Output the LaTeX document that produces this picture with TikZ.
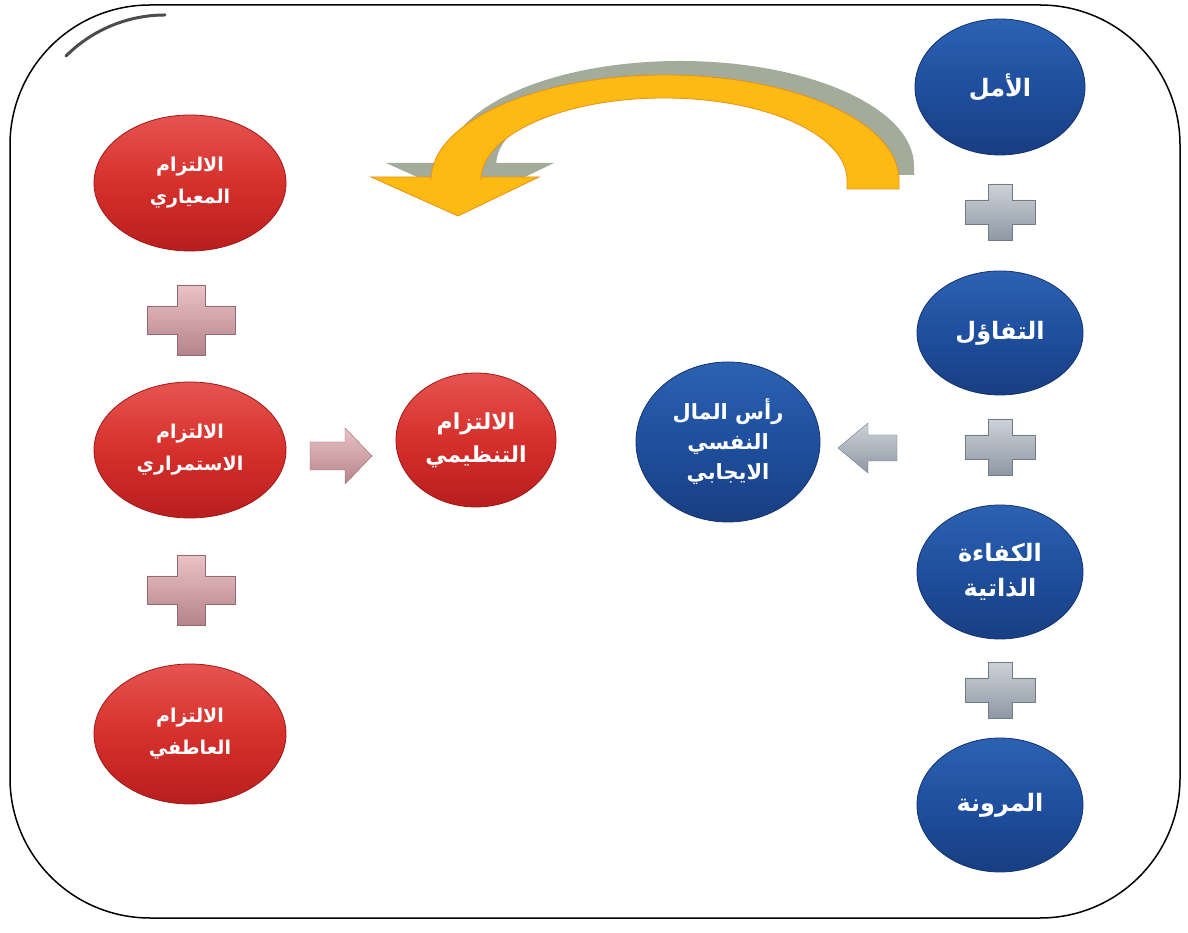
\documentclass[tikz,border=0pt]{standalone}
\usepackage{fontspec}
\newfontfamily\arabicfont[Script=Arabic]{DejaVu Sans}
\TeXXeTstate=1
\usetikzlibrary{shapes.geometric}
\definecolor{redT}{HTML}{E65450}
\definecolor{redM}{HTML}{D6302C}
\definecolor{redB}{HTML}{B81E1E}
\definecolor{redE}{HTML}{A01818}
\definecolor{blueT}{HTML}{2C62B2}
\definecolor{blueM}{HTML}{1F4F9E}
\definecolor{blueB}{HTML}{183E82}
\definecolor{blueE}{HTML}{14336E}
\definecolor{pinkT}{HTML}{EBC2C6}
\definecolor{pinkB}{HTML}{B4848A}
\definecolor{greyT}{HTML}{CDD2D8}
\definecolor{greyB}{HTML}{8E98A4}
\definecolor{arrowY}{HTML}{FDBA12}
\definecolor{arrowO}{HTML}{E8901A}
\definecolor{arrowS}{HTML}{A3AB9B}
\newcommand{\crossshape}[6]{%
  \begin{scope}[shift={(#1,#2)}]
    \path[#6] (-#3,-#5) -- (-#5,-#5) -- (-#5,-#4) -- (#5,-#4) -- (#5,-#5) -- (#3,-#5)
      -- (#3,#5) -- (#5,#5) -- (#5,#4) -- (-#5,#4) -- (-#5,#5) -- (-#3,#5) -- cycle;
  \end{scope}}
\newcommand{\ar}[1]{\beginR #1\endR}
\begin{document}
\begin{tikzpicture}[x=1pt,y=1pt,
  ballbase/.style={ellipse, inner sep=0pt, text=white, align=center, line width=0.8pt},
  redball/.style={ballbase, draw=redE, top color=redT, bottom color=redB, middle color=redM,
    minimum width=192pt, minimum height=136pt, font=\arabicfont\bfseries\fontsize{19}{32}\selectfont},
  blueball/.style={ballbase, draw=blueE, top color=blueT, bottom color=blueB, middle color=blueM,
    minimum width=166pt, minimum height=134pt, font=\arabicfont\bfseries\fontsize{24}{35}\selectfont},
  redcross/.style={top color=pinkT, bottom color=pinkB, draw=pinkB!80!black, line width=0.4pt},
  bluecross/.style={top color=greyT, bottom color=greyB, draw=greyB!80!black, line width=0.4pt}
]
\useasboundingbox (0,0) rectangle (1188,932);

% frame
\draw[line width=1.5pt, rounded corners=140pt] (10,14) rectangle (1180,927);
\draw[line width=3pt, gray!60!black, line cap=round] (165,917) arc[start angle=90, end angle=135, radius=140];

% curved arrow (shadow, then arrow)
\fill[arrowS, shift={(15,14)}] (899,743) -- (899,752) arc[start angle=0, end angle=180, x radius=234, y radius=105]
  -- (431,755) -- (371,755) -- (458,716) -- (539,755) -- (481,755) -- (481,752)
  arc[start angle=180, end angle=0, x radius=183, y radius=82] -- (847,743) -- cycle;
\filldraw[fill=arrowY, draw=arrowO, line width=0.8pt] (899,743) -- (899,752) arc[start angle=0, end angle=180, x radius=234, y radius=105]
  -- (431,755) -- (371,755) -- (458,716) -- (539,755) -- (481,755) -- (481,752)
  arc[start angle=180, end angle=0, x radius=183, y radius=82] -- (847,743) -- cycle;

% right column (blue)
\node[blueball, minimum width=170pt, minimum height=136pt] (hope) at (1000,845) {\ar{الأمل}};
\node[blueball, minimum height=124pt] (optimism) at (1000,599) {\ar{التفاؤل}};
\node[blueball] (efficacy) at (1000,360) {\ar{الكفاءة}\\\ar{الذاتية}};
\node[blueball] (resilience) at (1000,127) {\ar{المرونة}};

\crossshape{1000}{720}{35}{28}{12}{bluecross}
\crossshape{1000}{485}{35}{28}{12}{bluecross}
\crossshape{1000}{242}{35}{28}{12}{bluecross}

% psychological capital
\node[blueball, minimum width=184pt, minimum height=160pt,
  font=\arabicfont\bfseries\fontsize{21}{30}\selectfont] (capital) at (728,490) {\ar{رأس المال}\\\ar{النفسي}\\\ar{الايجابي}};

% grey arrow (pointing left)
\path[bluecross] (838,484) -- (868,509) -- (868,497) -- (897,497) -- (897,471) -- (868,471) -- (868,459) -- cycle;

% organisational commitment
\node[redball, minimum width=160pt, minimum height=134pt,
  font=\arabicfont\bfseries\fontsize{22}{33}\selectfont] (org) at (476,492) {\ar{الالتزام}\\\ar{التنظيمي}};

% pink arrow (pointing right)
\path[redcross] (310,462) -- (345,462) -- (345,448) -- (372,476) -- (345,504) -- (345,490) -- (310,490) -- cycle;

% left column (red)
\node[redball] (normative) at (190,749) {\ar{الالتزام}\\\ar{المعياري}};
\node[redball] (continuance) at (190,482) {\ar{الالتزام}\\\ar{الاستمراري}};
\node[redball, minimum height=140pt] (affective) at (190,198) {\ar{الالتزام}\\\ar{العاطفي}};

\crossshape{191}{612}{44}{35}{14}{redcross}
\crossshape{191}{342}{44}{35}{14}{redcross}
\end{tikzpicture}
\end{document}
